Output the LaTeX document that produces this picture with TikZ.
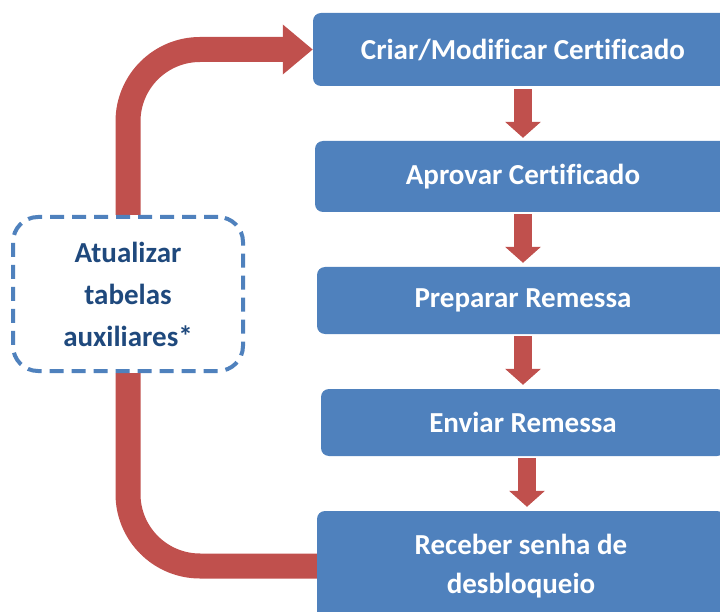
\documentclass[tikz,border=0pt]{standalone}
\usepackage{fontspec}
\setmainfont{Carlito}[Ligatures=NoCommon]
\usetikzlibrary{arrows.meta,backgrounds}
\definecolor{boxblue}{HTML}{4F81BD}
\definecolor{arrred}{HTML}{C0504D}
\definecolor{txtblue}{HTML}{1F497D}
\begin{document}
\begin{tikzpicture}[x=1pt,y=-1pt,
  stepbox/.style={fill=boxblue, draw=none, rounded corners=8pt, text=white,
    font=\fontsize{29}{39}\selectfont\bfseries, align=center, inner sep=0pt},
  auxbox/.style={fill=white, draw=boxblue, line width=4pt, dash pattern=on 14pt off 8pt,
    rounded corners=25pt, text=txtblue, font=\fontsize{29}{42}\selectfont\bfseries,
    align=center, minimum width=230pt, minimum height=154pt, inner sep=0pt},
  smallarr/.style={draw=arrred, line width=18pt,
    -{Triangle[width=35pt,length=16pt]}},
  bigarr/.style={draw=arrred, line width=25pt, rounded corners=72pt}
]
\useasboundingbox (0,0) rectangle (720,612);
\clip (0,0) rectangle (720,612);

\node[stepbox, minimum width=420pt, minimum height=73pt] (c1) at (523,49.5) {Criar/Modificar Certificado};
\node[stepbox, minimum width=416pt, minimum height=71pt] (c2) at (523,176.5) {Aprovar Certificado};
\node[stepbox, minimum width=412pt, minimum height=67pt] (c3) at (523,300.5) {Preparar Remessa};
\node[stepbox, minimum width=404pt, minimum height=67pt] (c4) at (523,422.5) {Enviar Remessa};
\node[stepbox, minimum width=408pt, minimum height=110pt] (c5) at (521,566) {Receber senha de\\desbloqueio};

\node[auxbox] (aux) at (128,294) {Atualizar\\tabelas\\auxiliares*};

\begin{scope}[on background layer]
\draw[bigarr, -{Triangle[width=48pt,length=30pt]}] (aux.north) |- (c1.west);
\draw[bigarr] (aux.south) |- (c5.west);
\end{scope}

\draw[smallarr, shorten <=3pt, shorten >=3pt] (c1.south) -- (c2.north);
\draw[smallarr, shorten <=2pt, shorten >=4pt] (c2.south) -- (c3.north);
\draw[smallarr, shorten <=2pt, shorten >=4pt] (c3.south) -- (c4.north);
\coordinate (a4) at ([xshift=4pt]c4.south);
\draw[smallarr, shorten <=2pt, shorten >=4pt] (a4) -- (a4 |- c5.north);
\end{tikzpicture}
\end{document}
